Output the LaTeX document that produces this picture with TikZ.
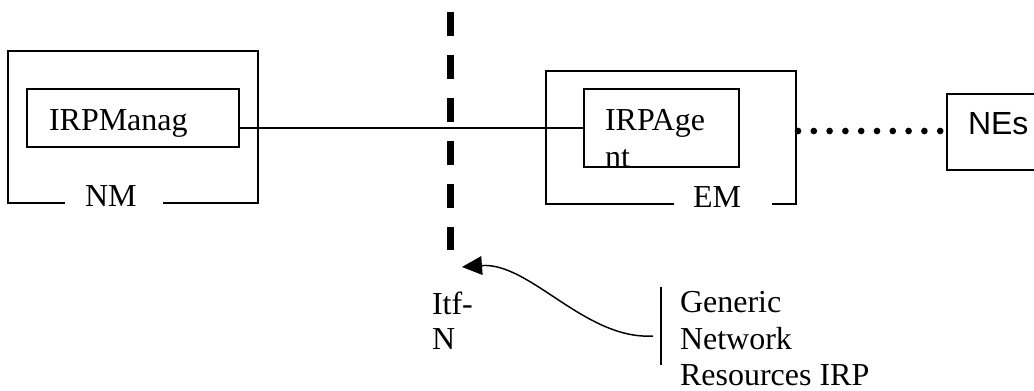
\documentclass[tikz,border=0pt]{standalone}
\usepackage{fontspec}
\setmainfont{Liberation Serif}
\newfontfamily\arialfont{Liberation Sans}
\usetikzlibrary{arrows.meta}
\tikzset{
  lbl/.style={inner sep=0pt, outer sep=0pt, anchor=base west, font=\fontsize{24}{27.75}\selectfont},
  box/.style={draw, line width=1.1pt, inner sep=0pt},
  frame/.style={line width=1.1pt},
  link/.style={line width=1.1pt},
  itfline/.style={line width=5.25pt, dash pattern=on 18pt off 14.25pt},
  dotline/.style={line width=5pt, line cap=round, dash pattern=on 0pt off 11.85pt},
  curvearrow/.style={line width=1.1pt, -{Triangle[length=15pt,width=14pt]}}
}
\begin{document}
\begin{tikzpicture}[x=0.75pt,y=-0.75pt]
\useasboundingbox (0,0) rectangle (1034,390);
% NM frame
\draw[frame] (65,203) -- (8,203) -- (8,51) -- (258,51) -- (258,203) -- (163,203);
\node[lbl] (nm) at (85,206) {NM};
% IRPManager box
\node[box, minimum width=212*0.75pt, minimum height=58*0.75pt] (mgr) at (133,118) {};
\node[lbl] (mgrtext) at (49,130) {IRPManag};
% EM frame
\draw[frame] (674,204) -- (546,204) -- (546,71) -- (796,71) -- (796,204) -- (772,204);
\node[lbl] (em) at (693,207) {EM};
\coordinate (emright) at (798,131);
% IRPAgent box
\node[box, minimum width=155*0.75pt, minimum height=78*0.75pt] (agent) at (661.5,128) {};
\node[lbl] (agenttext1) at (605,130) {IRPAge};
\node[lbl] (agenttext2) at (605,167) {nt};
% connection
\draw[link] (agent.west) -- (agent.west -| mgr.east);
% NEs box (cut at right edge)
\draw[frame] (1036,94) -- (947,94) -- (947,170) -- (1036,170);
\coordinate (nes) at (942,131);
\node[lbl, font=\arialfont\fontsize{24}{27.75}\selectfont] (nestext) at (968,134) {NEs};
\draw[dotline] (emright) -- (nes);
% Itf-N dashed line
\coordinate (itftop) at (450,12);
\coordinate (itfbot) at (450,250);
\draw[itfline] (itftop) -- (itfbot);
\node[lbl] (itf1) at (432,314) {Itf-};
\node[lbl] (itf2) at (432,349) {N};
% Generic Network Resources IRP
\coordinate (bartop) at (661,287);
\coordinate (barbot) at (661,365);
\draw[link] (bartop) -- (barbot);
\node[lbl] (g1) at (680,312) {Generic};
\node[lbl] (g2) at (680,349) {Network};
\node[lbl] (g3) at (680,385) {Resources IRP};
\coordinate (cstart) at (653,336);
\coordinate (ctip) at (462,267);
\draw[curvearrow] (cstart) .. controls (585,340) and (530,262) .. (ctip);
\end{tikzpicture}
\end{document}
